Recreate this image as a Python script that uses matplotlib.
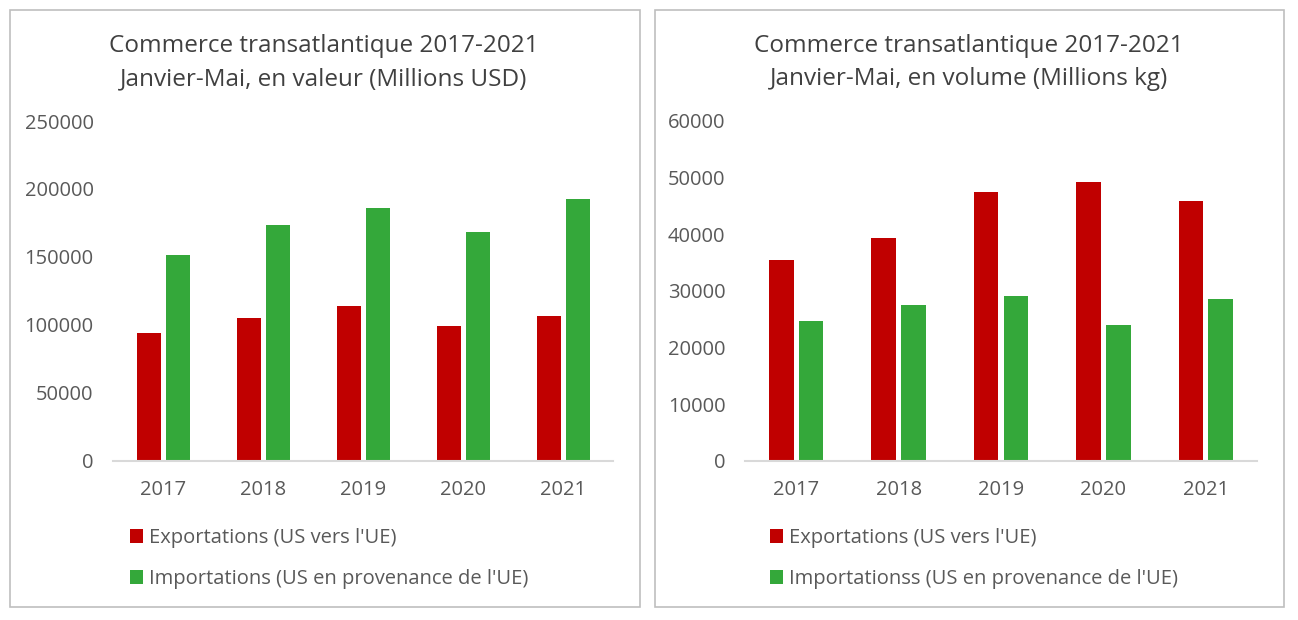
import matplotlib as mpl
mpl.use('Agg')
import matplotlib.pyplot as plt
import numpy as np
from matplotlib.patches import Rectangle

years = ["2017", "2018", "2019", "2020", "2021"]

# valeur, millions USD
export_usd = [94000, 105000, 114000, 99300, 106600]
import_usd = [151500, 173500, 186000, 168400, 192600]

# volume, millions kg
export_kg = [35500, 39300, 47500, 49200, 45900]
import_kg = [24700, 27500, 29100, 24000, 28600]

red = "#c00000"
green = "#34a83a"
grey_txt = "#595959"
fs = 14.5
W, H = 1298, 620

plt.rcParams['font.family'] = ['Open Sans', 'DejaVu Sans']

fig = plt.figure(figsize = (W / 100, H / 100), dpi = 100)

# panel frames
for x0, x1 in [(10, 640), (655, 1284)]:
    fig.patches.append(Rectangle((x0 / W, 13 / H), (x1 - x0) / W, 597 / H,
                                 transform = fig.transFigure, fill = False,
                                 edgecolor = "#bfbfbf", lw = 1.2))

def panel(rect, exp, imp, ymax, step, title, labels, title_x, leg_x):
    ax = fig.add_axes(rect)
    x = np.arange(len(years))
    w = 0.24
    ax.bar(x - 0.145, exp, width = w, color = red, label = labels[0])
    ax.bar(x + 0.145, imp, width = w, color = green, label = labels[1])
    ax.set_xlim(-0.5, len(years) - 0.5)
    ax.set_ylim(0, ymax)
    ticks = np.arange(0, ymax + 1, step)
    ax.set_yticks(ticks)
    ax.set_yticklabels([f"{int(v)}" for v in ticks])
    ax.set_xticks(x)
    ax.set_xticklabels(years)
    for s in ["top", "right", "left"]:
        ax.spines[s].set_visible(False)
    ax.spines["bottom"].set_color("#d9d9d9")
    ax.spines["bottom"].set_linewidth(1.5)
    ax.tick_params(axis = "both", length = 0, labelsize = fs, colors = grey_txt)
    ax.tick_params(axis = "x", pad = 14)
    ax.tick_params(axis = "y", pad = 14)
    t1, t2 = title
    fig.text(title_x / W, 1 - 46 / H, t1, ha = "center", va = "center", fontsize = 17.5, color = "#404040")
    fig.text(title_x / W, 1 - 79 / H, t2, ha = "center", va = "center", fontsize = 17.5, color = "#404040")
    ax.legend(loc = "upper left", bbox_to_anchor = (leg_x / W, 1 - 528 / H),
              bbox_transform = fig.transFigure, frameon = False,
              borderpad = 0, borderaxespad = 0,
              fontsize = fs, labelcolor = grey_txt, handlelength = 0.65,
              handleheight = 0.65, handletextpad = 0.3, labelspacing = 1.05)
    return ax

panel([113 / W, 159 / H, 500 / W, 340 / H], export_usd, import_usd, 250000, 50000,
      ("Commerce transatlantique 2017-2021", "Janvier-Mai, en valeur (Millions USD)"),
      ["Exportations (US vers l'UE)", "Importations (US en provenance de l'UE)"], 324, 130)

panel([745 / W, 159 / H, 512 / W, 340 / H], export_kg, import_kg, 60000, 10000,
      ("Commerce transatlantique 2017-2021", "Janvier-Mai, en volume (Millions kg)"),
      ["Exportations (US vers l'UE)", "Importationss (US en provenance de l'UE)"], 969, 770)

fig.savefig("out.png", dpi = 100)
plt.close()
